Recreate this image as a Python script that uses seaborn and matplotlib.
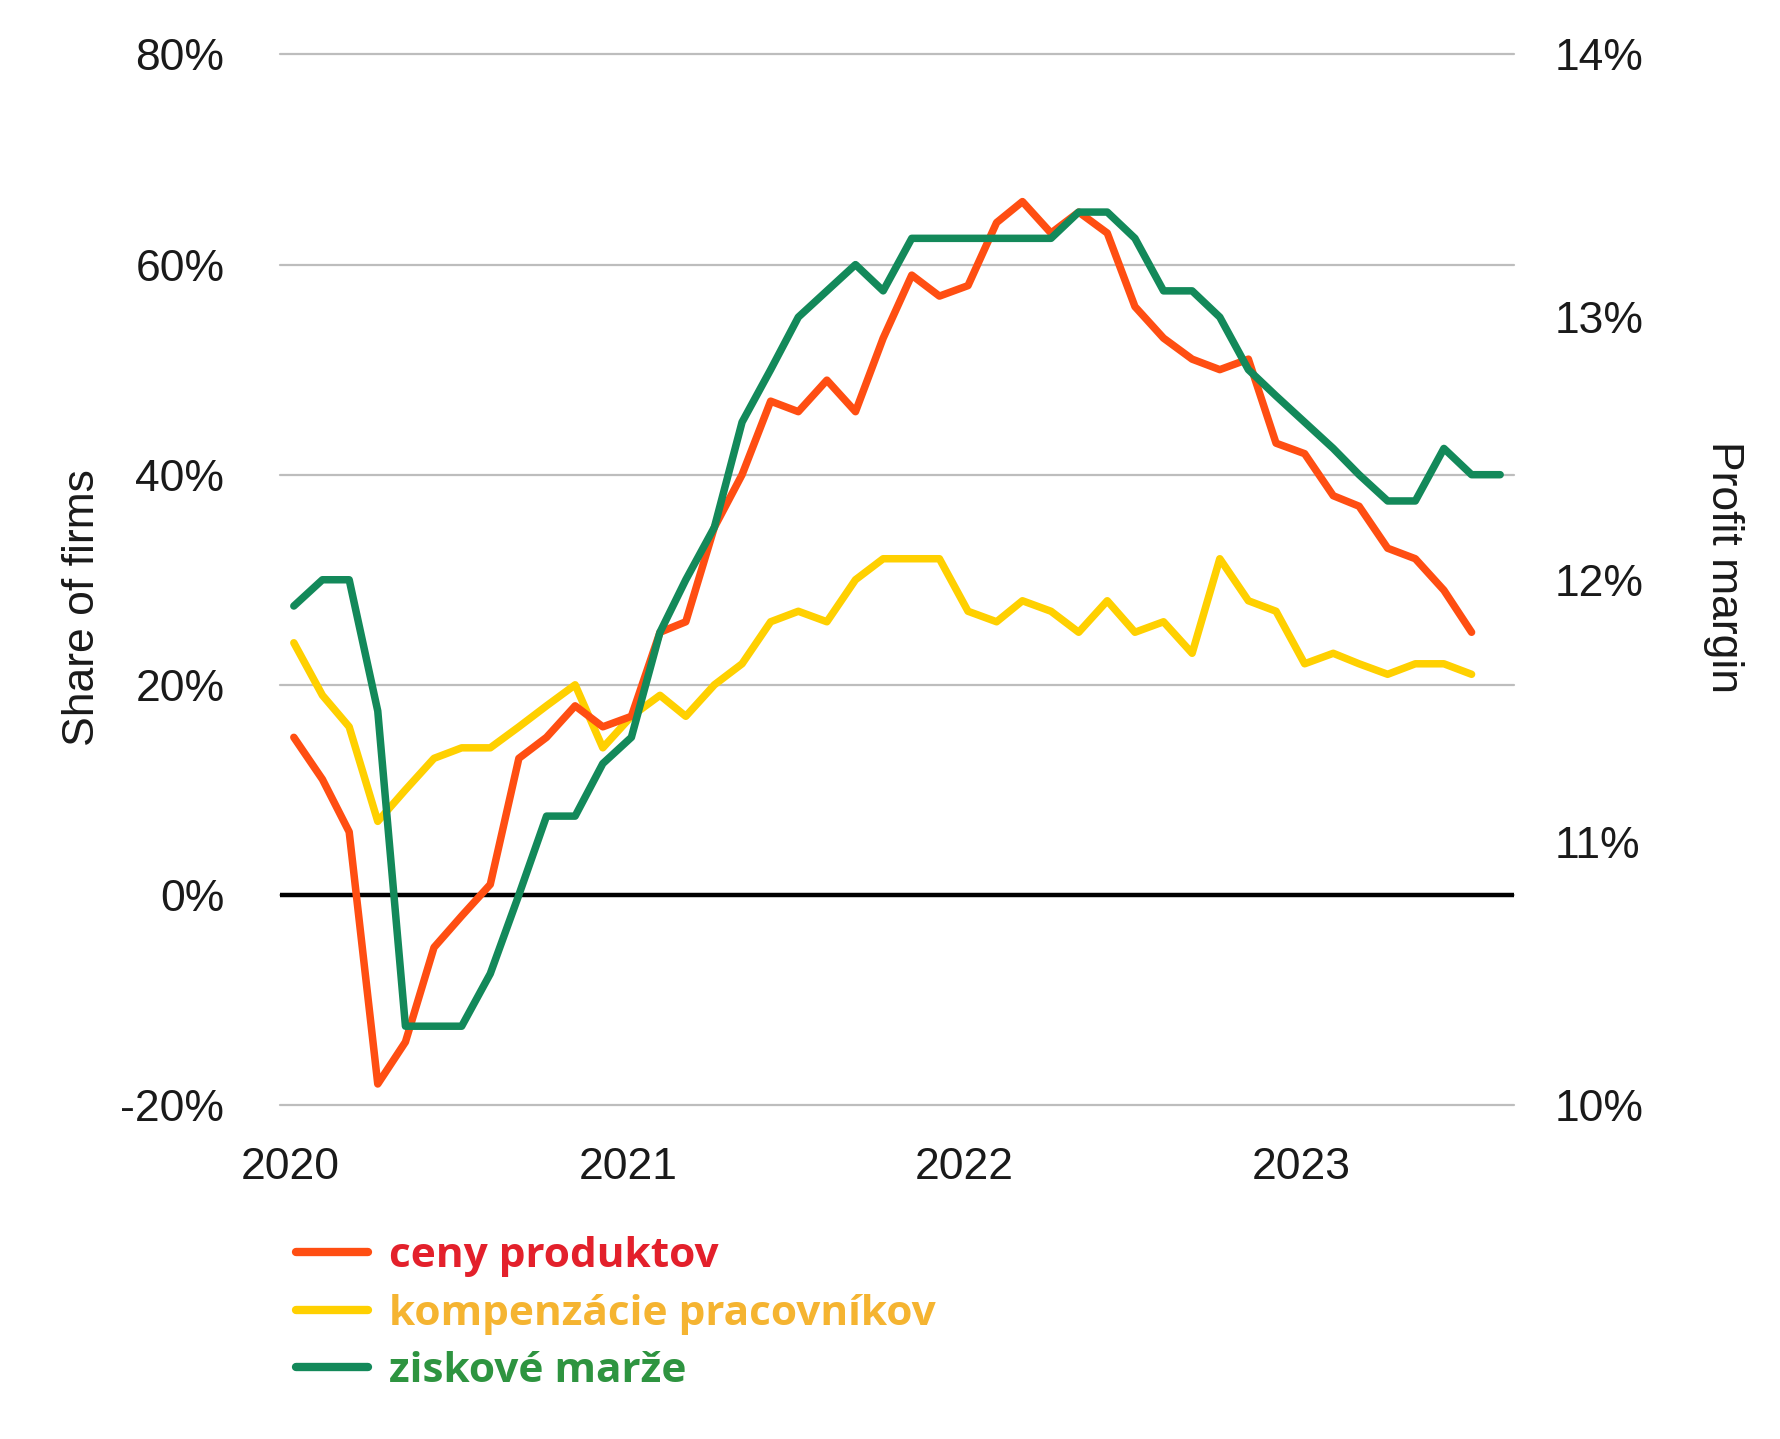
import numpy as np
import pandas as pd
import matplotlib
matplotlib.use("Agg")
import matplotlib.pyplot as plt
from matplotlib.lines import Line2D
import seaborn as sns

# ---------------- data ----------------
start_month = "2020-01-01"
series_names = ["ceny produktov", "kompenzácie pracovníkov", "ziskové marže"]

# share of firms (%), monthly from Jan 2020
ceny_produktov = [15, 11, 6, -18, -14, -5, -2, 1, 13, 15, 18, 16, 17, 25, 26, 35, 40, 47, 46, 49,
                  46, 53, 59, 57, 58, 64, 66, 63, 65, 63, 56, 53, 51, 50, 51, 43, 42, 38, 37, 33,
                  32, 29, 25]
kompenzacie = [24, 19, 16, 7, 10, 13, 14, 14, 16, 18, 20, 14, 17, 19, 17, 20, 22, 26, 27, 26,
               30, 32, 32, 32, 27, 26, 28, 27, 25, 28, 25, 26, 23, 32, 28, 27, 22, 23, 22, 21,
               22, 22, 21]
# profit margin (%), right axis
ziskove_marze = [11.9, 12.0, 12.0, 11.5, 10.3, 10.3, 10.3, 10.5, 10.8, 11.1, 11.1, 11.3, 11.4, 11.8,
                 12.0, 12.2, 12.6, 12.8, 13.0, 13.1, 13.2, 13.1, 13.3, 13.3, 13.3, 13.3, 13.3, 13.3,
                 13.4, 13.4, 13.3, 13.1, 13.1, 13.0, 12.8, 12.7, 12.6, 12.5, 12.4, 12.3, 12.3, 12.5,
                 12.4, 12.4]

left_ticks = [-20, 0, 20, 40, 60, 80]
right_ticks = [10, 11, 12, 13, 14]
year_labels = ["2020", "2021", "2022", "2023"]

line_colors = ["#FF4E12", "#FFD000", "#13895A"]
text_colors = ["#E3202B", "#F5B431", "#2E9440"]

# ---------------- frames ----------------
dates_all = pd.date_range(start_month, periods=len(ziskove_marze), freq="MS") + pd.Timedelta(days=4)
df_left = pd.concat([
    pd.DataFrame({"date": dates_all[:len(ceny_produktov)], "value": ceny_produktov, "series": series_names[0]}),
    pd.DataFrame({"date": dates_all[:len(kompenzacie)], "value": kompenzacie, "series": series_names[1]}),
])
df_right = pd.DataFrame({"date": dates_all, "value": ziskove_marze, "series": series_names[2]})

# ---------------- style ----------------
sns.set_style("white")
plt.rcParams["font.family"] = ["Liberation Sans", "DejaVu Sans"]

W, H = 1781, 1439
fig = plt.figure(figsize=(W / 100, H / 100), dpi=100)
L, R, T, B = 280, 1514, 54.5, 1105
ax = fig.add_axes([L / W, 1 - B / H, (R - L) / W, (B - T) / H])
ax2 = ax.twinx()

lw = 5.4
sns.lineplot(data=df_left, x="date", y="value", hue="series", hue_order=series_names[1::-1],
             palette={series_names[0]: line_colors[0], series_names[1]: line_colors[1]},
             linewidth=lw, legend=False, ax=ax)
sns.lineplot(data=df_right, x="date", y="value", color=line_colors[2], linewidth=lw,
             legend=False, ax=ax2)
for a in (ax, ax2):
    for ln in a.get_lines():
        ln.set_solid_joinstyle("round")
        ln.set_solid_capstyle("round")

ax.set_ylim(-20, 80)
ax2.set_ylim(10, 14)
x0 = dates_all[0] - pd.Timedelta(days=15)
x1 = dates_all[-1] + pd.Timedelta(days=15)
ax.set_xlim(x0, x1)

ax.set_yticks(left_ticks)
ax.set_yticklabels([f"{v}%" for v in left_ticks])
ax2.set_yticks(right_ticks)
ax2.set_yticklabels([f"{v}%" for v in right_ticks])
ax.set_xticks([pd.Timestamp(f"{y}-01-01") for y in year_labels])
ax.set_xticklabels(year_labels)

ax.yaxis.grid(True, color="#BDBDBD", linewidth=1.6)
ax.xaxis.grid(False)
ax2.grid(False)
for gl in ax.get_ygridlines():
    gl.set_clip_on(False)
ax.axhline(0, color="black", linewidth=3.2, zorder=1.5)

for a in (ax, ax2):
    for s in a.spines.values():
        s.set_visible(False)
    a.set_xlabel("")
    a.set_ylabel("")

ax.tick_params(axis="y", length=0, pad=40, labelsize=32, labelcolor="#1a1a1a")
ax.tick_params(axis="x", length=0, pad=30, labelsize=32, labelcolor="#1a1a1a")
ax2.tick_params(axis="y", length=0, pad=29, labelsize=32, labelcolor="#1a1a1a")

fig.text(83 / W, 1 - 608 / H, "Share of firms", rotation=90, ha="center", va="center",
         fontsize=32, color="#1a1a1a")
fig.text(1724 / W, 1 - 567 / H, "Profit margin", rotation=270, ha="center", va="center",
         fontsize=32, color="#1a1a1a")

handles = [Line2D([0], [0], color=c, linewidth=6, solid_capstyle="round") for c in line_colors]
leg = fig.legend(handles, series_names, loc="upper left",
                 bbox_to_anchor=(296 / W, 1 - 1236 / H), frameon=False,
                 prop={"family": "Open Sans", "weight": "bold", "size": 30.5},
                 handlelength=1.7, handletextpad=0.5, labelspacing=0.39,
                 borderpad=0, borderaxespad=0)
for t, c in zip(leg.get_texts(), text_colors):
    t.set_color(c)

fig.savefig("out.png", dpi=100, facecolor="white")
